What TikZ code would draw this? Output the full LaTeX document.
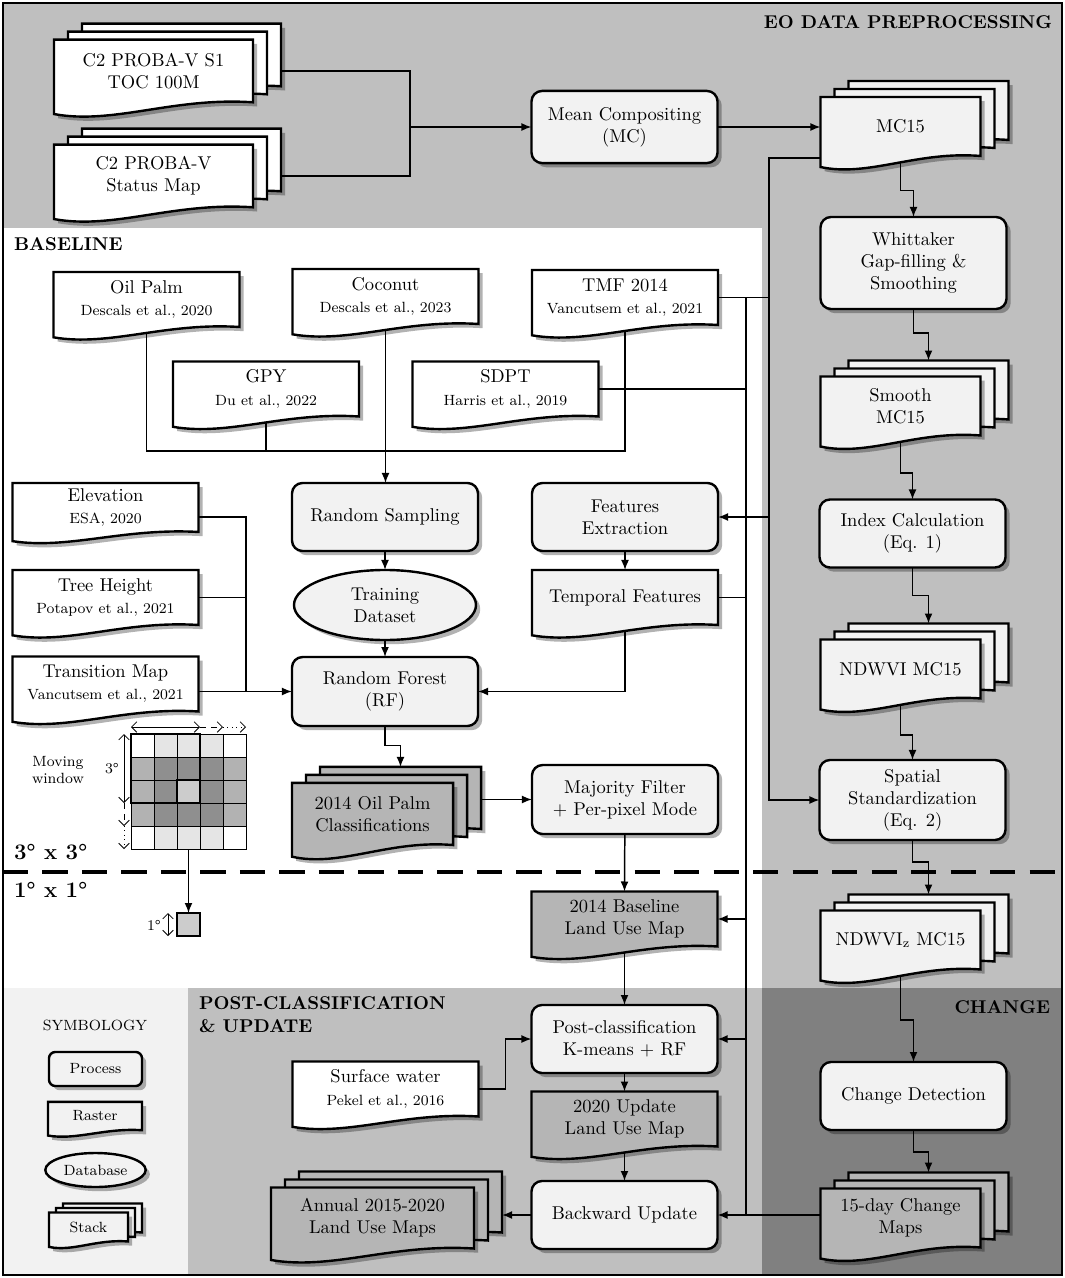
\documentclass[tikz,border=0pt]{standalone}
\usetikzlibrary{shadows,shapes.geometric,arrows.meta}
\definecolor{panelgray}{gray}{0.75}
\definecolor{procfill}{gray}{0.95}
\definecolor{mapfill}{gray}{0.71}
\definecolor{changefill}{gray}{0.5}
\definecolor{cellL}{gray}{0.9}
\definecolor{cellM}{gray}{0.7}
\definecolor{cellD}{gray}{0.56}
\definecolor{cellC}{gray}{0.8}
\makeatletter
\newdimen\rdL \newdimen\rdR \newdimen\rdB \newdimen\rdT \newdimen\rdW \newdimen\rdA
\pgfdeclareshape{rasterdoc}{%
  \inheritsavedanchors[from=rectangle]%
  \inheritanchorborder[from=rectangle]%
  \inheritanchor[from=rectangle]{center}%
  \inheritanchor[from=rectangle]{north}%
  \inheritanchor[from=rectangle]{south}%
  \inheritanchor[from=rectangle]{east}%
  \inheritanchor[from=rectangle]{west}%
  \inheritanchor[from=rectangle]{north east}%
  \inheritanchor[from=rectangle]{north west}%
  \inheritanchor[from=rectangle]{south east}%
  \inheritanchor[from=rectangle]{south west}%
  \inheritanchor[from=rectangle]{text}%
  \inheritanchor[from=rectangle]{base}%
  \backgroundpath{%
    \southwest \rdL=\pgf@x \rdB=\pgf@y
    \northeast \rdR=\pgf@x \rdT=\pgf@y
    \rdW=\rdR \advance\rdW by -\rdL
    \rdA=\rdT \advance\rdA by -\rdB
    \rdA=0.25\rdA
    \pgfpathmoveto{\pgfqpoint{\rdL}{\rdT}}%
    \pgfpathlineto{\pgfqpoint{\rdR}{\rdT}}%
    \pgfpathlineto{\pgfqpoint{\rdR}{\rdB}}%
    \pgfpathcurveto{\pgfqpoint{\dimexpr\rdL+0.6\rdW\relax}{\dimexpr\rdB+0.35\rdA\relax}}%
      {\pgfqpoint{\dimexpr\rdL+0.3\rdW\relax}{\dimexpr\rdB-1.45\rdA\relax}}%
      {\pgfqpoint{\rdL}{\dimexpr\rdB-0.75\rdA\relax}}%
    \pgfpathclose
  }%
}
\makeatother
\pgfdeclarelayer{panel}
\pgfdeclarelayer{lines}
\pgfsetlayers{panel,lines,main}
\begin{document}
\begin{tikzpicture}[x=0.019cm, y=-0.019cm,
  shadowed/.style={drop shadow={shadow xshift=0.08cm, shadow yshift=-0.08cm, opacity=0.3, fill=black}},
  proc/.style={draw, line width=1.3pt, rounded corners=0.2cm, fill=procfill, minimum width=3.534cm, minimum height=1.292cm, shadowed},
  raster/.style={shape=rasterdoc, draw, line width=1.3pt, fill=#1, minimum width=3.534cm, minimum height=1.045cm, shadowed},
  raster/.default=white,
  stack/.style={shape=rasterdoc, draw, line width=1.3pt, fill=#1, minimum width=3.04cm, minimum height=1.12cm,
    drop shadow={shadow xshift=0.612cm, shadow yshift=0.224cm, opacity=0.3, fill=black},
    copy shadow={shadow xshift=0.532cm, shadow yshift=0.304cm, fill=#1, draw, line width=1.3pt},
    copy shadow={shadow xshift=0.266cm, shadow yshift=0.152cm, fill=#1, draw, line width=1.3pt},
    shadowed},
  smallstack/.style={shape=rasterdoc, draw, line width=1.3pt, fill=procfill, minimum width=1.5cm, minimum height=0.55cm,
    drop shadow={shadow xshift=0.346cm, shadow yshift=0.091cm, opacity=0.3, fill=black},
    copy shadow={shadow xshift=0.266cm, shadow yshift=0.171cm, fill=procfill, draw, line width=1.3pt},
    copy shadow={shadow xshift=0.133cm, shadow yshift=0.0855cm, fill=procfill, draw, line width=1.3pt},
    shadowed},
  db/.style={ellipse, draw, line width=1.3pt, fill=procfill, minimum width=3.458cm, minimum height=1.33cm, shadowed},
  cell/.style={draw, line width=1.3pt, fill=cellC, minimum size=0.437cm, inner sep=0pt},
  head/.style={font=\bfseries, inner sep=0pt},
  conn/.style={line width=0.8pt},
  arr/.style={line width=0.8pt, -{Latex[length=1.9mm, width=1.5mm]}},
  dim/.style={line width=0.4pt, {Straight Barb[length=1mm]}-{Straight Barb[length=1mm]}},
  dimr/.style={line width=0.4pt, -{Straight Barb[length=1mm]}}]
\tikzstyle{every node}+=[inner sep=2pt, outer sep=0pt, align=center]
\useasboundingbox (0,0) rectangle (1065,1278);
\begin{pgfonlayer}{panel}
\fill[white] (0,0) rectangle (1065,1278);
\fill[panelgray] (3,3) rectangle (1062,1275);
\fill[white] (3,228) rectangle (762,988);
\fill[procfill] (3,988) rectangle (188,1275);
\fill[changefill] (762,988) rectangle (1062,1275);
\draw[line width=2.2pt, dash pattern=on 0.48cm off 0.27cm] (3,872) -- (1062,872);
\end{pgfonlayer}

\node[head, anchor=east] (eoTitle) at (1052,22) {EO DATA PREPROCESSING};
\node[head, anchor=west] (baseTitle) at (14,244) {BASELINE};
\node[head, anchor=west, font=\large\bfseries] (coarseLbl) at (14,852) {3\textdegree{} x 3\textdegree};
\node[head, anchor=west, font=\large\bfseries] (fineLbl) at (14,890) {1\textdegree{} x 1\textdegree};
\node[head, anchor=north west, align=left] (postTitle) at (199,997) {POST-CLASSIFICATION\\\& UPDATE};
\node[head, anchor=east] (changeTitle) at (1050,1007) {CHANGE};

\node[stack=white, minimum width=3.78cm, minimum height=1.19cm] (probaS1) at (153.5,71) {C2 PROBA-V S1\\TOC 100M};
\node[stack=white, minimum width=3.78cm, minimum height=1.19cm] (probaSM) at (153.5,176) {C2 PROBA-V\\Status Map};
\node[proc, minimum height=1.37cm] (meanC) at (624.5,127) {Mean Compositing\\(MC)};
\node[stack=procfill] (mc15) at (900.5,126.5) {MC15};
\node[proc, minimum height=1.748cm] (whit) at (913.5,263) {Whittaker\\Gap-filling \&\\Smoothing};
\node[stack=procfill] (smooth) at (900.5,406) {Smooth\\MC15};
\node[proc] (index) at (912.5,533.5) {Index Calculation\\(Eq. 1)};
\node[stack=procfill] (ndwvi) at (900.5,669) {NDWVI MC15};
\node[proc, minimum height=1.52cm] (spatial) at (912.5,800) {Spatial\\Standardization\\(Eq. 2)};
\node[stack=procfill] (ndwviz) at (900.5,940) {NDWVI\textsubscript{z} MC15};
\node[proc] (changeDet) at (913.5,1096) {Change Detection};
\node[stack=mapfill] (change15) at (900.5,1218) {15-day Change\\Maps};

\node[raster] (oilPalm) at (146.5,299.5) {Oil Palm\\{\footnotesize Descals et al., 2020}};
\node[raster] (coconut) at (385.5,296.5) {Coconut\\{\footnotesize Descals et al., 2023}};
\node[raster] (tmf) at (625,297.5) {TMF 2014\\{\footnotesize Vancutsem et al., 2021}};
\node[raster] (gpy) at (266,389) {GPY\\{\footnotesize Du et al., 2022}};
\node[raster] (sdpt) at (505.5,389) {SDPT\\{\footnotesize Harris et al., 2019}};
\node[raster, minimum height=0.93cm] (elevation) at (105.5,507.5) {Elevation\\{\footnotesize ESA, 2020}};
\node[raster] (treeH) at (105.5,597.5) {Tree Height\\{\footnotesize Potapov et al., 2021}};
\node[raster] (transition) at (105.5,684) {Transition Map\\{\footnotesize Vancutsem et al., 2021}};
\node[proc] (randSamp) at (385,517) {Random Sampling};
\node[proc] (featExt) at (625,517) {Features\\Extraction};
\node[db] (training) at (385,605) {Training\\Dataset};
\node[raster=procfill] (temporal) at (625,597.5) {Temporal Features};
\node[proc, minimum height=1.31cm] (randForest) at (385,691.5) {Random Forest\\(RF)};
\node[stack=mapfill, minimum width=3.06cm, minimum height=1.18cm] (oilClass) at (372.5,814) {2014 Oil Palm\\Classifications};
\node[proc, minimum height=1.31cm] (majority) at (625,799.5) {Majority Filter\\+ Per-pixel Mode};
\node[raster=mapfill] (baseline) at (624.5,919) {2014 Baseline\\Land Use Map};
\node[proc] (postClass) at (624.5,1039) {Post-classification\\K-means + RF};
\node[raster] (surface) at (385.5,1089) {Surface water\\{\footnotesize Pekel et al., 2016}};
\node[raster=mapfill] (update2020) at (624.5,1119) {2020 Update\\Land Use Map};
\node[proc] (backward) at (624.5,1215) {Backward Update};
\node[stack=mapfill, minimum width=3.857cm, minimum height=1.16cm] (annual) at (372.5,1218) {Annual 2015-2020\\Land Use Maps};

\node[font=\footnotesize] (symTitle) at (95,1025) {SYMBOLOGY};
\node[proc, minimum width=1.767cm, minimum height=0.646cm, rounded corners=0.12cm, font=\footnotesize] (symProc) at (95.5,1069) {Process};
\node[raster=procfill, minimum width=1.786cm, minimum height=0.54cm, font=\footnotesize] (symRaster) at (95,1116) {Raster};
\node[db, minimum width=1.805cm, minimum height=0.646cm, font=\footnotesize] (symDb) at (95.5,1170) {Database};
\node[smallstack, font=\footnotesize] (symStack) at (88.5,1227) {Stack};

\foreach \row [count=\r from 0] in {{white,cellL,cellL,cellL,white},{cellM,cellD,cellD,cellD,cellM},{cellM,cellD,cellD,cellD,cellM},{cellM,cellD,cellD,cellD,cellM},{white,cellL,cellL,cellL,white}}
  \foreach \col [count=\c from 0] in \row
    \draw[fill=\col, line width=0.4pt] ({131+23*\c},{734+23*\r}) rectangle ++(23,23);
\draw[line width=1.3pt] (131,734) rectangle (200,803);
\node[cell] (ctrCell) at (188.5,791.5) {};
\node[cell] (oneDeg) at (188.5,924.5) {};
\draw[dim] (131,727) -- (200,727);
\draw[dimr, dashed] (200,727) -- (223,727);
\draw[dimr, dotted] (223,727) -- (246,727);
\draw[dim] (124,734) -- (124,803);
\draw[dimr, dashed] (124,803) -- (124,826);
\draw[dimr, dotted] (124,826) -- (124,849);
\draw[dim] (168,913) -- (168,936);
\node[font=\footnotesize] (threeDeg) at (112,769) {3\textdegree};
\node[font=\footnotesize] (oneDegLbl) at (154,925) {1\textdegree};
\node[font=\footnotesize] (movWin) at (58,770) {Moving\\window};

\coordinate (jProba) at (410,127);
\coordinate (busM) at (769,158);
\coordinate (busL) at (746,1215);
\coordinate (busB) at (625,451);
\coordinate (busE) at (246,691.5);
\coordinate (annualEdge) at ([xshift=0.532cm]annual.east);
\begin{pgfonlayer}{lines}
\draw[arr] (probaS1) -| (jProba) -- (meanC.west);
\draw[conn] (probaSM) -| (jProba);
\draw[arr] (meanC) -- (meanC -| mc15.west);
\draw[arr] (mc15) -- ++(0,64) -| (whit.north);
\draw[arr] (whit) -- ++(0,70) -| ([shift={(28,-16)}]smooth.north);
\draw[arr] (smooth) -- ++(0,67) -| (index.north);
\draw[arr] (index) -- ++(0,62) -| ([shift={(28,-16)}]ndwvi.north);
\draw[arr] (ndwvi) -- ++(0,66) -| (spatial.north);
\draw[arr] (spatial) -- ++(0,62) -| ([shift={(28,-16)}]ndwviz.north);
\draw[arr] (ndwviz) -- ++(0,80) -| (changeDet.north);
\draw[arr] (changeDet) -- ++(0,56) -| ([shift={(28,-16)}]change15.north);
\draw[arr] (change15 |- backward) -- (backward.east);
\draw[arr] (mc15 |- busM) -- (busM) |- (spatial.west);
\draw[arr] (featExt -| busM) -- (featExt.east);
\draw[conn] (tmf) -- (tmf -| busM);
\draw[conn] (tmf -| busL) -- (busL);
\draw[conn] (sdpt) -- (sdpt -| busL);
\draw[conn] (temporal) -- (temporal -| busL);
\draw[arr] (baseline -| busL) -- (baseline.east);
\draw[arr] (postClass -| busL) -- (postClass.east);
\draw[conn] (oilPalm) |- (busB) -- (tmf);
\draw[conn] (gpy) -- (gpy |- busB);
\draw[arr] (coconut) -- (coconut |- randSamp.north);
\draw[arr] (randSamp) -- (training.north);
\draw[arr] (training) -- (randForest.north);
\draw[arr] (featExt) -- (temporal.north);
\draw[arr] (temporal) |- (randForest.east);
\draw[conn] ([yshift=-0.18cm]elevation.center) -| (busE);
\draw[conn] (treeH) -| (busE);
\draw[arr] (transition |- busE) -- (randForest.west);
\draw[arr] (randForest) -- ++(0,54) -| ([shift={(28,-16)}]oilClass.north);
\draw[arr] (majority -| oilClass) -- (majority.west);
\draw[arr] (majority) -- (baseline.north);
\draw[arr] (baseline) -- (postClass.north);
\draw[arr] (surface) -- ++(120,0) |- (postClass.west);
\draw[arr] (postClass) -- (update2020.north);
\draw[arr] (update2020) -- (backward.north);
\draw[arr] (backward) -- (backward -| annualEdge);
\draw[arr] (ctrCell) -- (oneDeg.north);
\end{pgfonlayer}
\draw[line width=1.6pt] (3,3) rectangle (1062,1275);
\end{tikzpicture}
\end{document}
